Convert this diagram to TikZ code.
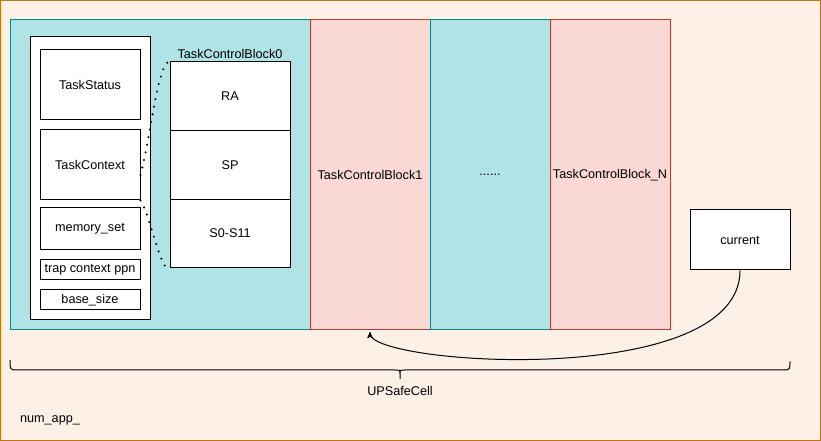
\documentclass[tikz,border=0pt]{standalone}
\usepackage{fontspec}
\setmainfont{Liberation Sans}
\usepackage{tikz}
\usetikzlibrary{arrows,calc}

\definecolor{peach}{RGB}{253,240,230}
\definecolor{rim}{RGB}{193,117,19}
\definecolor{cyanfill}{HTML}{B0E3E6}
\definecolor{cyanline}{HTML}{0E8088}
\definecolor{pinkfill}{HTML}{FAD9D5}
\definecolor{pinkline}{HTML}{AE4132}

\tikzset{
  field/.style={draw,fill=white,line width=0.75pt,minimum width=75pt,inner sep=0pt},
  tcbcyan/.style={draw=cyanline,fill=cyanfill,line width=0.75pt,minimum width=90pt,minimum height=232.5pt,inner sep=0pt},
  tcbpink/.style={draw=pinkline,fill=pinkfill,line width=0.75pt,minimum width=90pt,minimum height=232.5pt,inner sep=0pt},
  reg/.style={draw,fill=white,line width=0.75pt,minimum width=90pt,minimum height=51.5pt,inner sep=0pt},
}

\begin{document}
\begin{tikzpicture}[x=0.75pt,y=-0.75pt,>=stealth',shorten >=1pt,node distance=51.5pt,
    font=\fontsize{9.5}{11}\selectfont]
    \useasboundingbox (0,0) rectangle (821,441);
    \draw[draw=rim,fill=peach,line width=0.75pt] (0.5,0.5) rectangle (820.5,440.5);

    % task control blocks
    \node[tcbcyan,minimum width=225pt] (tcb0) at (160,175) {};
    \node[tcbpink] (tcb1) at (370,175) {TaskControlBlock1};
    \node[tcbcyan] (tcbdots) at (490,175) {......};
    \node[tcbpink] (tcbN) at (610,175) {TaskControlBlock\_N};

    % fields of one block
    \node[field,minimum width=90pt,minimum height=212.25pt] (holder) at (90,178.5) {};
    \node[field,minimum height=52.5pt] (status) at (90,85) {TaskStatus};
    \node[field,minimum height=52.5pt] (ctx) at (90,165) {TaskContext};
    \node[field,minimum height=31.5pt] (mem) at (90,229) {memory\_set};
    \node[field,minimum height=15pt] (ppn) at (90,270) {trap context ppn};
    \node[field,minimum height=15pt] (base) at (90,300) {base\_size};

    % saved registers
    \node[reg] (ra) at (230,96.3) {RA};
    \node[reg] (sp) [below of=ra] {SP};
    \node[reg] (sreg) [below of=sp] {S0-S11};
    \node (ctxname) at (230,53.5) {TaskControlBlock0};

    \draw[line width=1.7pt,dash pattern=on 0pt off 5.8pt,line cap=round]
    ($(ctx.east)+(0,10)$) .. controls (150,140) and (158,62) .. (ra.north west)
    (ctx.south east) .. controls (150,215) and (160,268) .. (sreg.south west);

    % current pointer
    \node[field,minimum height=45pt] (current) at (740,240) {current};
    \draw[->,line width=0.75pt] (current.south) .. controls (740,390) and (370,365) .. (tcb1.south);

    % the cell
    \coordinate (bl) at (10,360);
    \coordinate (br) at (790,360);
    \coordinate (tip) at (400,379);
    \draw[line width=0.75pt] (bl) .. controls (10,370) .. (18,370) -- (395,370)
      .. controls (400,370) .. (400,374) -- (tip)
      (400,374) .. controls (400,370) .. (405,370) -- (782,370)
      .. controls (790,370) .. (br);
    \node (cell) at (400,391) {UPSafeCell};
    \node (napp) at (50,420) {num\_app\_};
\end{tikzpicture}
\end{document}
